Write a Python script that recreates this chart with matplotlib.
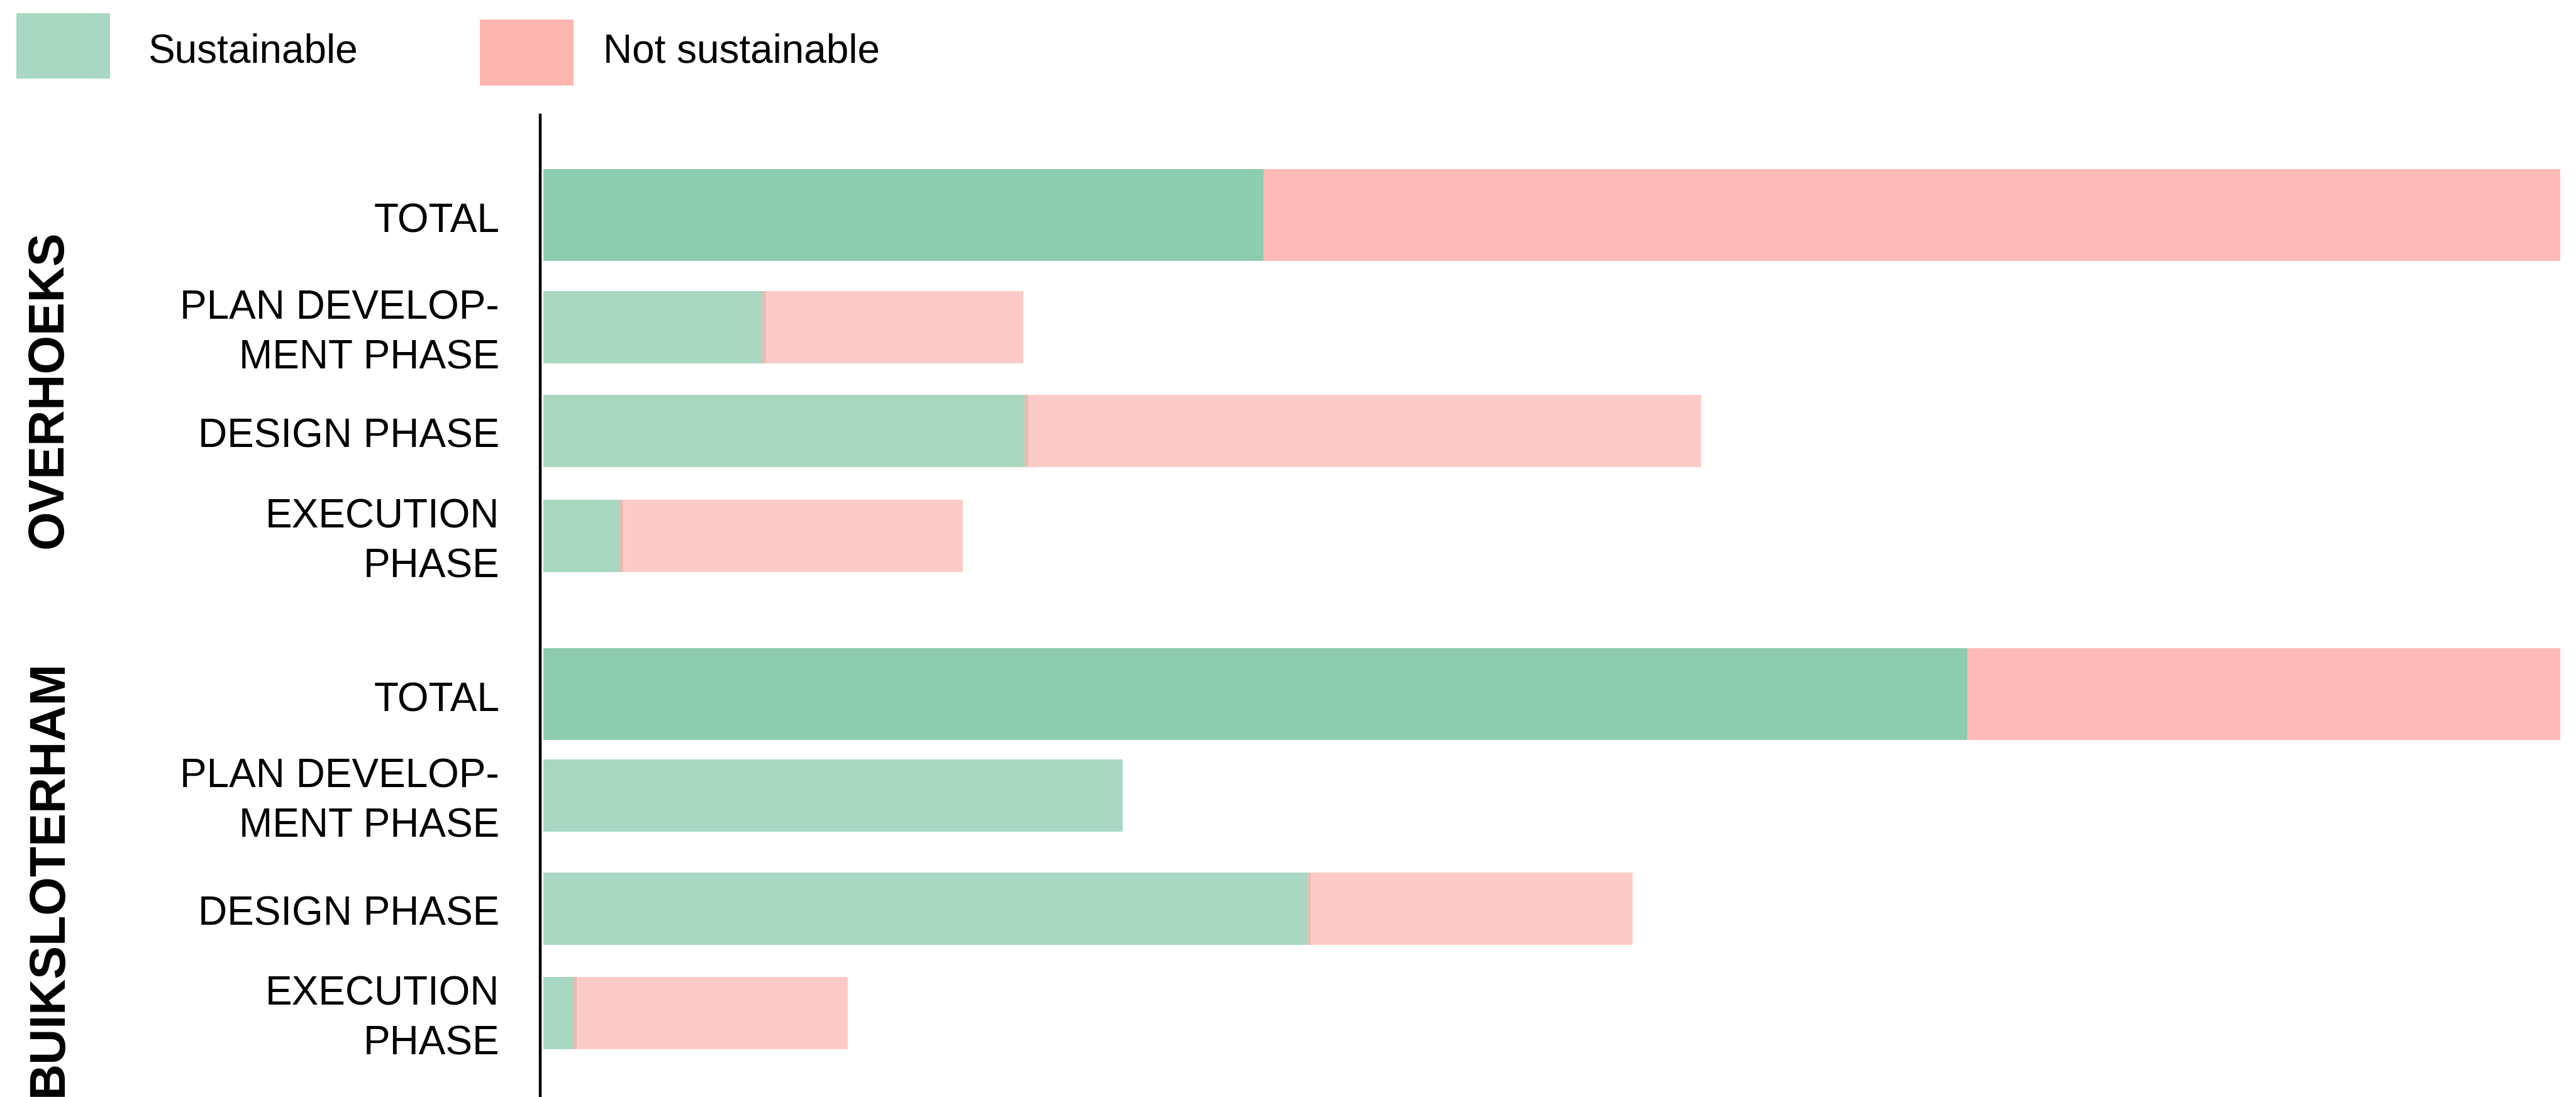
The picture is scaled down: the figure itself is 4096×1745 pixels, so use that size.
import matplotlib.pyplot as plt
from matplotlib.patches import Rectangle

# data (bar lengths, share of the full-width TOTAL bar = 100)
groups = ['OVERHOEKS', 'BUIKSLOTERHAM']
rows = ['TOTAL', 'PLAN DEVELOP-\nMENT PHASE', 'DESIGN PHASE', 'EXECUTION\nPHASE']
overhoeks_sust = [35.7, 10.9, 23.9, 3.8]
overhoeks_not = [64.3, 12.9, 33.5, 17.0]
buik_sust = [70.6, 28.7, 37.9, 1.5]
buik_not = [29.4, 0.0, 16.1, 13.6]
legend_labels = ['Sustainable', 'Not sustainable']

W, H = 4096, 1745
DPI = 100
fig = plt.figure(figsize=(W / DPI, H / DPI), dpi=DPI)

def fx(px):
    return px / W

def fy(py):
    return 1 - py / H

# layout (pixel rows of bar centres and bar heights)
centres = [[342, 520, 685, 852], [1104, 1265, 1445, 1611]]
heights = [146, 115, 115, 115]

top_px = 183
ax = fig.add_axes([fx(859), 0, fx(4071) - fx(859), fy(top_px)])
ax.set_xlim(-0.16, 100)
ax.set_ylim(H, top_px)
ax.axis('off')
ax.axvline(-0.16, color='black', lw=3.2, clip_on=False)

c_green_tot = '#8DCCAF'
c_pink_tot = '#FFBAB6'
c_green = '#A8D8C2'
c_pink = '#FDCBC7'

font = 'Liberation Sans'
fs = 46

for g, (sust, nots) in enumerate([(overhoeks_sust, overhoeks_not), (buik_sust, buik_not)]):
    for i in range(len(rows)):
        y = centres[g][i]
        h = heights[i]
        gcol = c_green_tot if i == 0 else c_green
        pcol = c_pink_tot if i == 0 else c_pink
        ax.barh(y, sust[i], height=h, color=gcol, lw=0)
        if nots[i] > 0:
            ax.barh(y, nots[i], left=sust[i], height=h, color=pcol, lw=0)
            if i > 0:
                # faint seam between the two parts
                ax.barh(y, 0.2, left=sust[i] - 0.05, height=h, color='#E6BDB5', lw=0)
        fig.text(fx(794), fy(y + 10), rows[i], ha='right', va='center', fontsize=fs,
                 family=font, linespacing=1.4)

# group labels
fig.text(fx(78), fy(366), groups[0], rotation=90, ha='center', va='top',
         fontsize=57, fontweight='bold', family=font)
fig.text(fx(78), fy(1050), groups[1], rotation=90, ha='center', va='top',
         fontsize=57, fontweight='bold', family=font)

# legend
fig.patches.append(Rectangle((fx(26), fy(125)), fx(175) - fx(26), fy(21) - fy(125),
                             transform=fig.transFigure, color=c_green, lw=0))
fig.patches.append(Rectangle((fx(763), fy(136)), fx(912) - fx(763), fy(31) - fy(136),
                             transform=fig.transFigure, color='#FFB5B0', lw=0))
fig.text(fx(235), fy(82), legend_labels[0], ha='left', va='center', fontsize=fs, family=font)
fig.text(fx(959), fy(82), legend_labels[1], ha='left', va='center', fontsize=fs, family=font)

fig.savefig('out.png', dpi=DPI, facecolor='white')
